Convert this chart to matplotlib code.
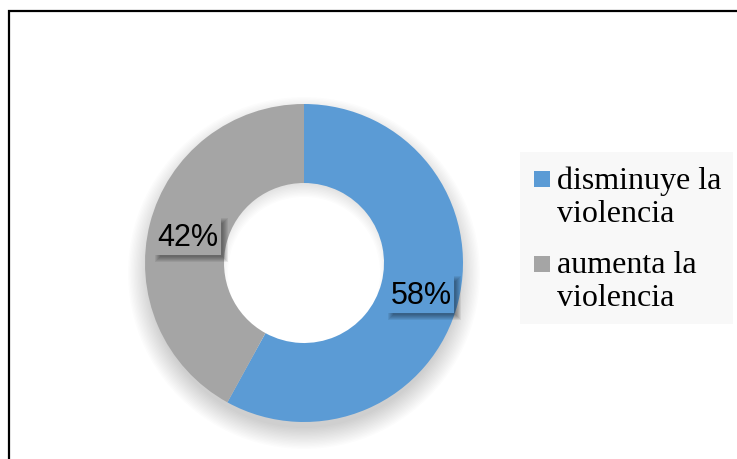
import numpy as np
import matplotlib
matplotlib.use("Agg")
import matplotlib.pyplot as plt
from matplotlib.patches import Rectangle, Wedge

# datos
categorias = ["disminuye la\nviolencia", "aumenta la\nviolencia"]
valores = [58, 42]
etiquetas = ["58%", "42%"]
colores = ["#5B9BD5", "#A5A5A5"]

W, H = 737, 460
fig = plt.figure(figsize=(W / 100, H / 100), dpi=100)
ax = fig.add_axes([0, 0, 1, 1])

def py(y):
    # coordenada y en pixeles (desde arriba) -> datos
    return H - y

cx, cy = 304, py(264)
r_ext, r_int = 159, 80

# sombra suave debajo del anillo
for i in range(16):
    ax.add_patch(Wedge((cx, cy - 10), r_ext - 4 + i * 1.4, 0, 360,
                       width=r_ext - r_int,
                       facecolor="#000000", alpha=0.010, lw=0, zorder=1))

wedges, _ = ax.pie(valores, colors=colores, startangle=90, counterclock=False,
                   radius=r_ext, center=(cx, cy),
                   wedgeprops=dict(width=r_ext - r_int, linewidth=0))
for w in wedges:
    w.set_zorder(2)

# etiquetas de datos con caja y sombra
pos_etq = [(421, 295), (188, 237)]
for (x, y), txt, col in zip(pos_etq, etiquetas, colores):
    bw, bh = 67, 38
    x0, y0 = x - bw / 2, py(y) - bh / 2
    for i in range(6):
        g = 3 - i
        ax.add_patch(Rectangle((x0 + 4 - g, y0 - 4 - g), bw + 2 * g, bh + 2 * g,
                               facecolor="#000000", alpha=0.07, lw=0, zorder=3))
    ax.add_patch(Rectangle((x0, y0), bw, bh, facecolor=col, lw=0, zorder=4))
    ax.text(x, py(y) - 1, txt, ha="center", va="center", fontsize=22,
            family="Liberation Sans", color="black", zorder=5)

# leyenda
ax.add_patch(Rectangle((520, py(325)), 213, 172, facecolor="#F8F8F8",
                       lw=0, zorder=3))
leg_y = [180, 265]
for yy, lab, col in zip(leg_y, categorias, colores):
    ax.add_patch(Rectangle((534, py(yy) - 8), 16, 16, facecolor=col,
                           lw=0, zorder=4))
    ax.text(557, py(yy - 14), lab, ha="left", va="top", fontsize=23,
            family="Liberation Serif", color="black", linespacing=1.2,
            zorder=5)

# marco
ax.add_patch(Rectangle((9, -20), 800, py(12) + 20, facecolor="none",
                       edgecolor="black", lw=1.6, zorder=6))

ax.set_xlim(0, W)
ax.set_ylim(0, H)
ax.set_aspect("auto")
ax.axis("off")

fig.savefig("out.png", dpi=100)
